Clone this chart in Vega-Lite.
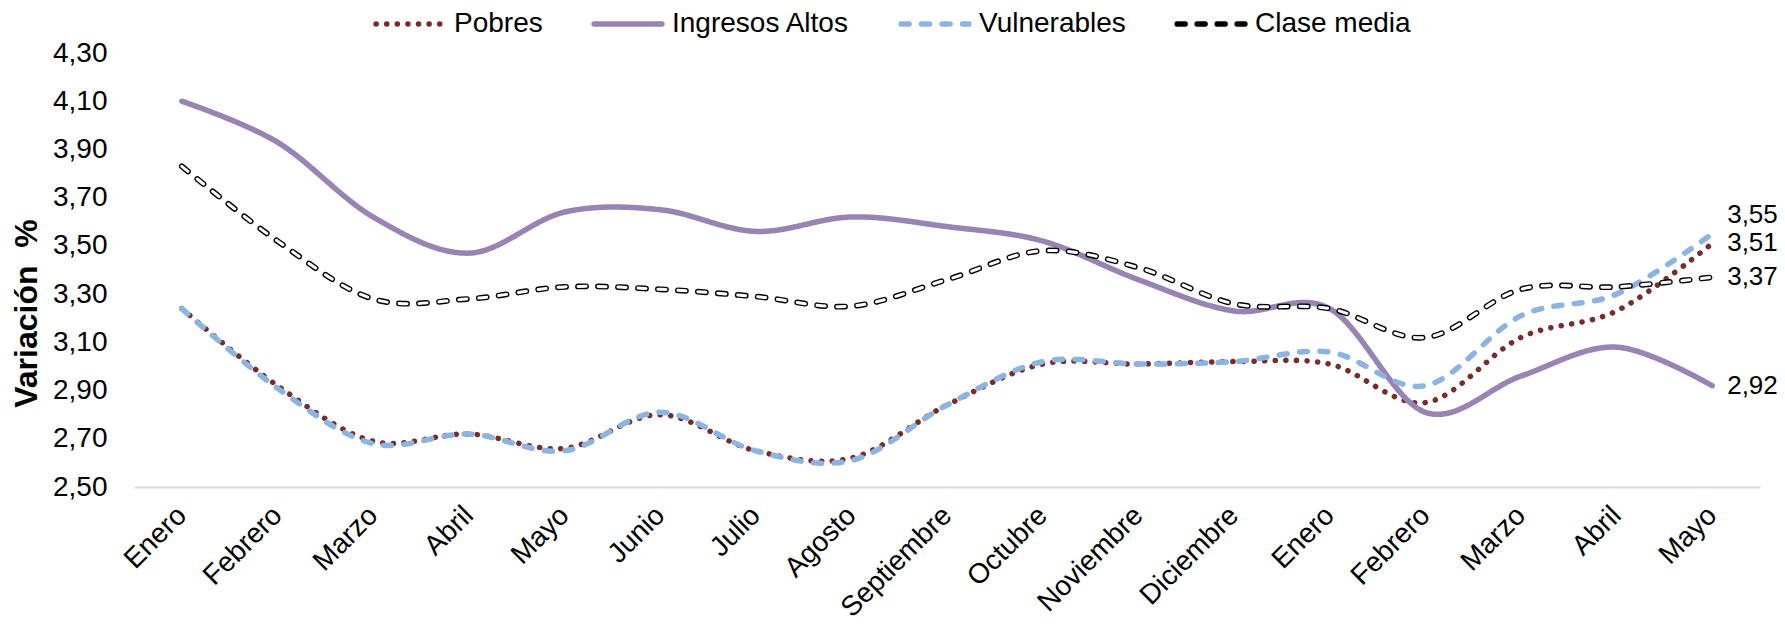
{
  "$schema": "https://vega.github.io/schema/vega-lite/v6.json",
  "width": 1626,
  "height": 434,
  "autosize": "none",
  "padding": {"left": 134, "top": 53, "right": 25, "bottom": 139},
  "background": "white",
  "config": {
    "view": {"stroke": null},
    "font": "Liberation Sans",
    "locale": {"number": {"decimal": ",", "thousands": ".", "grouping": [3], "currency": ["", " €"]}}
  },
  "datasets": {
    "d": [
      {"mes": "Enero-1", "serie": "Pobres", "valor": 3.24},
      {"mes": "Febrero-1", "serie": "Pobres", "valor": 2.92},
      {"mes": "Marzo-1", "serie": "Pobres", "valor": 2.69},
      {"mes": "Abril-1", "serie": "Pobres", "valor": 2.72},
      {"mes": "Mayo-1", "serie": "Pobres", "valor": 2.66},
      {"mes": "Junio-1", "serie": "Pobres", "valor": 2.80},
      {"mes": "Julio-1", "serie": "Pobres", "valor": 2.65},
      {"mes": "Agosto-1", "serie": "Pobres", "valor": 2.62},
      {"mes": "Septiembre-1", "serie": "Pobres", "valor": 2.84},
      {"mes": "Octubre-1", "serie": "Pobres", "valor": 3.01},
      {"mes": "Noviembre-1", "serie": "Pobres", "valor": 3.01},
      {"mes": "Diciembre-1", "serie": "Pobres", "valor": 3.02},
      {"mes": "Enero-2", "serie": "Pobres", "valor": 3.01},
      {"mes": "Febrero-2", "serie": "Pobres", "valor": 2.85},
      {"mes": "Marzo-2", "serie": "Pobres", "valor": 3.12},
      {"mes": "Abril-2", "serie": "Pobres", "valor": 3.23},
      {"mes": "Mayo-2", "serie": "Pobres", "valor": 3.51},
      {"mes": "Enero-1", "serie": "Ingresos Altos", "valor": 4.10},
      {"mes": "Febrero-1", "serie": "Ingresos Altos", "valor": 3.93},
      {"mes": "Marzo-1", "serie": "Ingresos Altos", "valor": 3.62},
      {"mes": "Abril-1", "serie": "Ingresos Altos", "valor": 3.47},
      {"mes": "Mayo-1", "serie": "Ingresos Altos", "valor": 3.64},
      {"mes": "Junio-1", "serie": "Ingresos Altos", "valor": 3.65},
      {"mes": "Julio-1", "serie": "Ingresos Altos", "valor": 3.56},
      {"mes": "Agosto-1", "serie": "Ingresos Altos", "valor": 3.62},
      {"mes": "Septiembre-1", "serie": "Ingresos Altos", "valor": 3.58},
      {"mes": "Octubre-1", "serie": "Ingresos Altos", "valor": 3.52},
      {"mes": "Noviembre-1", "serie": "Ingresos Altos", "valor": 3.36},
      {"mes": "Diciembre-1", "serie": "Ingresos Altos", "valor": 3.23},
      {"mes": "Enero-2", "serie": "Ingresos Altos", "valor": 3.24},
      {"mes": "Febrero-2", "serie": "Ingresos Altos", "valor": 2.81},
      {"mes": "Marzo-2", "serie": "Ingresos Altos", "valor": 2.96},
      {"mes": "Abril-2", "serie": "Ingresos Altos", "valor": 3.08},
      {"mes": "Mayo-2", "serie": "Ingresos Altos", "valor": 2.92},
      {"mes": "Enero-1", "serie": "Vulnerables", "valor": 3.24},
      {"mes": "Febrero-1", "serie": "Vulnerables", "valor": 2.91},
      {"mes": "Marzo-1", "serie": "Vulnerables", "valor": 2.68},
      {"mes": "Abril-1", "serie": "Vulnerables", "valor": 2.72},
      {"mes": "Mayo-1", "serie": "Vulnerables", "valor": 2.65},
      {"mes": "Junio-1", "serie": "Vulnerables", "valor": 2.81},
      {"mes": "Julio-1", "serie": "Vulnerables", "valor": 2.65},
      {"mes": "Agosto-1", "serie": "Vulnerables", "valor": 2.61},
      {"mes": "Septiembre-1", "serie": "Vulnerables", "valor": 2.84},
      {"mes": "Octubre-1", "serie": "Vulnerables", "valor": 3.02},
      {"mes": "Noviembre-1", "serie": "Vulnerables", "valor": 3.01},
      {"mes": "Diciembre-1", "serie": "Vulnerables", "valor": 3.02},
      {"mes": "Enero-2", "serie": "Vulnerables", "valor": 3.06},
      {"mes": "Febrero-2", "serie": "Vulnerables", "valor": 2.92},
      {"mes": "Marzo-2", "serie": "Vulnerables", "valor": 3.21},
      {"mes": "Abril-2", "serie": "Vulnerables", "valor": 3.30},
      {"mes": "Mayo-2", "serie": "Vulnerables", "valor": 3.55},
      {"mes": "Enero-1", "serie": "Clase media", "valor": 3.83},
      {"mes": "Febrero-1", "serie": "Clase media", "valor": 3.52},
      {"mes": "Marzo-1", "serie": "Clase media", "valor": 3.28},
      {"mes": "Abril-1", "serie": "Clase media", "valor": 3.28},
      {"mes": "Mayo-1", "serie": "Clase media", "valor": 3.33},
      {"mes": "Junio-1", "serie": "Clase media", "valor": 3.32},
      {"mes": "Julio-1", "serie": "Clase media", "valor": 3.29},
      {"mes": "Agosto-1", "serie": "Clase media", "valor": 3.25},
      {"mes": "Septiembre-1", "serie": "Clase media", "valor": 3.36},
      {"mes": "Octubre-1", "serie": "Clase media", "valor": 3.48},
      {"mes": "Noviembre-1", "serie": "Clase media", "valor": 3.41},
      {"mes": "Diciembre-1", "serie": "Clase media", "valor": 3.26},
      {"mes": "Enero-2", "serie": "Clase media", "valor": 3.24},
      {"mes": "Febrero-2", "serie": "Clase media", "valor": 3.12},
      {"mes": "Marzo-2", "serie": "Clase media", "valor": 3.32},
      {"mes": "Abril-2", "serie": "Clase media", "valor": 3.33},
      {"mes": "Mayo-2", "serie": "Clase media", "valor": 3.37}
    ]
  },
  "data": {"name": "d"},
  "encoding": {
    "x": {
      "field": "mes", "type": "ordinal", "sort": null,
      "axis": {
        "title": null, "labelAngle": -45, "labelFontSize": 28, "labelColor": "black",
        "labelExpr": "split(datum.value,'-')[0]", "ticks": false, "labelPadding": 24,
        "domainColor": "#d9d9d9", "domainWidth": 2, "grid": false, "labelAlign": "right", "labelBaseline": "middle"
      }
    },
    "y": {
      "field": "valor", "type": "quantitative",
      "scale": {"domain": [2.5, 4.3], "nice": false, "zero": false},
      "axis": {
        "title": "Variación\u00a0 %", "titleFontSize": 32, "titleFontWeight": "bold", "titleColor": "black",
        "titlePadding": 9, "titleY": 260,
        "values": [2.5, 2.7, 2.9, 3.1, 3.3, 3.5, 3.7, 3.9, 4.1, 4.3], "format": ".2f",
        "labelFontSize": 28, "labelColor": "black", "labelPadding": 27,
        "ticks": false, "domain": false, "grid": false
      }
    }
  },
  "layer": [
    {
      "mark": {"type": "line", "interpolate": "cardinal", "strokeCap": "round"},
      "encoding": {
        "color": {
          "field": "serie", "type": "nominal",
          "scale": {"domain": ["Pobres", "Ingresos Altos", "Vulnerables", "Clase media"], "range": ["#772C2A", "#9982B4", "#8DB3E2", "#000000"]},
          "legend": {
            "title": null, "orient": "none", "legendX": 239, "legendY": -66, "direction": "horizontal",
            "labelFontSize": 28, "labelColor": "black", "labelLimit": 500, "symbolType": "stroke", "symbolSize": 4600,
            "symbolStrokeWidth": 5.5, "columnPadding": 40, "labelOffset": 7,
            "encode": {"symbols": {"update": {"strokeCap": {"value": "round"}}}}
          }
        },
        "strokeDash": {
          "field": "serie", "type": "nominal",
          "scale": {"domain": ["Pobres", "Ingresos Altos", "Vulnerables", "Clase media"], "range": [[0.1, 10.5], [1, 0], [8, 12.5], [8, 12]]},
          "legend": null
        },
        "strokeWidth": {"condition": {"test": "datum.serie === 'Clase media'", "value": 5.8}, "value": 5.5}
      }
    },
    {
      "transform": [{"filter": "datum.serie === 'Clase media'"}],
      "mark": {"type": "line", "interpolate": "cardinal", "strokeCap": "round", "strokeWidth": 3, "color": "white", "strokeDash": [8, 12]},
      "encoding": {}
    },
    {
      "transform": [{"filter": "datum.mes === 'Mayo-2' && datum.serie !== 'Vulnerables'"}],
      "mark": {"type": "text", "align": "left", "baseline": "middle", "dx": 15, "fontSize": 26, "color": "black"},
      "encoding": {"text": {"field": "valor", "type": "quantitative", "format": ".2f"}}
    },
    {
      "transform": [{"filter": "datum.mes === 'Mayo-2' && datum.serie === 'Vulnerables'"}],
      "mark": {"type": "text", "align": "left", "baseline": "middle", "dx": 15, "dy": -19, "fontSize": 26, "color": "black"},
      "encoding": {"text": {"field": "valor", "type": "quantitative", "format": ".2f"}}
    }
  ]
}
